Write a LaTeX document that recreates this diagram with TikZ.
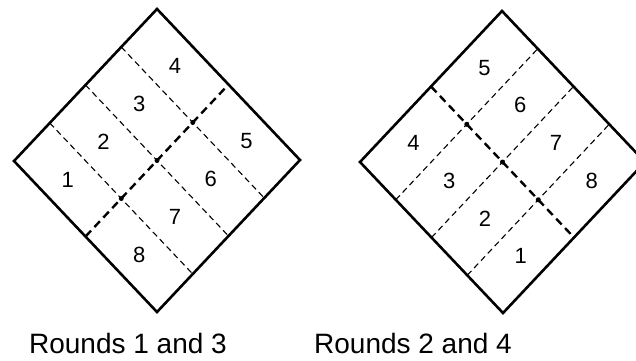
\documentclass[tikz,border=0pt]{standalone}
\usepackage{fontspec}
\setmainfont{Liberation Sans}
\usetikzlibrary{calc}

\begin{document}
\begin{tikzpicture}
        [ x=1pt, y=-1pt
        , frame/.style={line width=2.6pt, line join=miter}
        , split/.style={line width=1.1pt, dash pattern=on 6pt off 4pt}
        , halve/.style={line width=2.4pt, dash pattern=on 8pt off 5pt}
        , knot/.style={circle, fill, inner sep=0pt, minimum size=5pt}
        , cell/.style={font=\fontsize{22}{22}\selectfont}
        , caption/.style={font=\fontsize{28}{30}\selectfont, anchor=base}
        ]
                \useasboundingbox (0,0) rectangle (636,360);
                \begin{scope}[shift={(14,161)}, x={(143pt,-151pt)}, y={(143pt,152pt)}]
                    \draw[frame] (0,0) coordinate (l1) -- (1,0) coordinate (b1)
                        -- (1,1) coordinate (r1) -- (0,1) coordinate (t1) -- cycle;
                    \foreach \v in {0.25,0.5,0.75}
                        \draw[split] (0,\v) -- (1,\v);
                    \draw[halve] ($(l1)!0.5!(b1)$) -- ($(t1)!0.5!(r1)$);
                    \foreach \v in {0.25,0.5,0.75}
                        \node[knot] at (0.5,\v) {};
                    \foreach \k/\u/\v in {1/.25/.125, 2/.25/.375, 3/.25/.625, 4/.25/.875,
                                          5/.75/.875, 6/.75/.625, 7/.75/.375, 8/.75/.125}
                        \node[cell] (a\k) at (\u,\v) {\k};
                \end{scope}
                \begin{scope}[shift={(360,162)}, x={(143pt,-151pt)}, y={(142pt,151pt)}]
                    \draw[frame] (0,0) coordinate (l2) -- (1,0) coordinate (b2)
                        -- (1,1) coordinate (r2) -- (0,1) coordinate (t2) -- cycle;
                    \foreach \u in {0.25,0.5,0.75}
                        \draw[split] (\u,0) -- (\u,1);
                    \draw[halve] ($(l2)!0.5!(t2)$) -- ($(b2)!0.5!(r2)$);
                    \foreach \u in {0.25,0.5,0.75}
                        \node[knot] at (\u,0.5) {};
                    \foreach \k/\u/\v in {4/.125/.25, 3/.375/.25, 2/.625/.25, 1/.875/.25,
                                          5/.125/.75, 6/.375/.75, 7/.625/.75, 8/.875/.75}
                        \node[cell] (b\k) at (\u,\v) {\k};
                \end{scope}
                \node[caption] (c1) at (128,353) {Rounds 1 and 3};
                \node[caption] (c2) at (413,353) {Rounds 2 and 4};
        \end{tikzpicture}
\end{document}
